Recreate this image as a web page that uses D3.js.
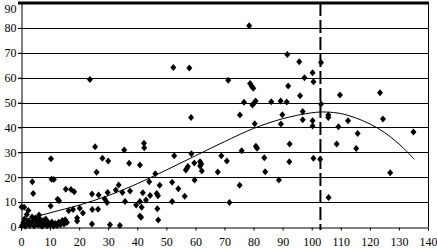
<!DOCTYPE html>
<html>
<head>
<meta charset="utf-8">
<script src="https://cdn.jsdelivr.net/npm/d3@7"></script>
<style>
html,body{margin:0;padding:0;background:#fff;}
svg{display:block;}
text{font-family:"Liberation Serif","Times New Roman",serif;font-size:12px;fill:#000;}
</style>
</head>
<body>
<svg id="chart" width="437" height="251"></svg>
<script>
// ---- data ----
const xTicks = [0,10,20,30,40,50,60,70,80,90,100,110,120,130,140];
const yTicks = [0,10,20,30,40,50,60,70,80,90];
const pointX = [
 23.7,52.4,57.9,58.5,71.3,75.3,78.5,78.8,79.3,79.9,76.7,79.6,80.2,80.7,80.4,86.1,89.3,91.4,89.4,89.9,
 91.6,91.9,95.7,96,97.5,100.3,100.6,103.2,103.2,96.9,96.9,100.3,100.3,105.7,105.7,109.7,123.5,109.2,112.5,124.5,
 115.8,135,108.6,115.3,100.6,102.9,127,105.8,92.4,92.3,88.7,84,83.7,80.8,81.2,75.9,75.2,71.7,68.9,70.8,
 67.7,62.2,61.6,62,61.6,59.6,58.6,57,56.7,57.4,59.7,56.3,54.1,52,52.7,52,47.7,46.2,44.1,44.4,
 46.7,47.1,46.9,47.2,43,41.9,40.9,39.6,41.5,40.9,41.3,40.9,42.3,42.4,37.2,37.5,35.5,35.8,34.9,33.6,
 32.6,34,30.6,29.8,28.8,29.6,30,28,26,25.5,26.7,24.4,24.5,26.5,24.4,21.3,19.3,19.3,20.2,16.4,
 17.9,17.2,18.3,15.4,12.6,13.1,10.3,10.5,11.3,10.2,3.9,4.2,0.2,1.1,2.5,
 0.3,0.8,1.2,1.5,2.1,2.6,3.0,3.4,3.8,4.2,4.5,4.9,5.3,5.6,6.0,6.4,6.8,7.2,7.6,8.0,
 8.5,9.0,9.4,10.0,10.6,11.2,11.8,12.4,13.0,13.6,14.2,14.8,15.2,15.8,6.2,2.0
];
const pointY = [
 59.3,64.1,63.9,44,59,45,80.9,57.7,56.7,55.7,50.1,49,49.8,50.6,41.5,50.3,50.6,50.2,41.4,45.1,
 69.3,56.7,66.4,52.7,60,62,58.4,66.1,49.4,46.4,43.1,42.7,40.6,45,44,53,53.9,40.3,42.7,43.4,
 37.6,38.2,33.3,31.5,27.6,27.2,21.8,11.9,33.3,26.2,18.9,22.2,27.8,32.4,31.6,30.6,16.8,9.8,28.6,26.5,
 22.1,22.5,26.2,25.3,24.5,25.7,29.4,23.5,22.9,24.3,18.9,12.4,15.4,18,28.6,10.2,16.8,21.4,18.2,12.7,
 13.5,12.6,7.3,2.8,10.8,13.8,10.2,8.8,7.9,4.4,3.9,24.9,33.6,31.8,25.6,14.5,30.9,10.2,13.9,16.9,
 14.9,0.6,0.9,13.9,11.2,9.8,26.5,27.6,22,32.2,12.9,13.3,7,7.1,1.2,5.6,3.6,2.4,7.5,6.5,
 7,15.1,14.2,15.2,11.1,10.5,27.4,19.2,19.1,8.4,18.2,13.5,8,7.9,6.6,
 0.5,1.8,3.2,0.3,1.2,2.4,0.6,1.6,4.0,2.6,0.4,3.6,1.2,2.2,0.8,3.4,1.6,0.3,2.5,1.0,
 3.2,0.5,1.8,0.8,2.0,0.4,1.4,0.6,1.9,0.9,2.6,1.2,2.9,1.8,4.8,5.0
];
// trend curve
const trendX = [2,10,20,30,40,50,60,70,80,90,100,105,110,115,120,125,130,135.3];
const trendY = [3.2,5.7,8.8,12.6,17.4,22.9,28.6,34.3,39.6,43.5,45.9,46.2,45.6,43.9,41.4,38.0,33.4,27.2];
const markerX = 103;

// ---- drawing ----
const svg = d3.select("#chart");
const x = d3.scaleLinear().domain([0,140]).range([21,428]);
const y = d3.scaleLinear().domain([0,90]).range([227,3]);

// gridlines
svg.append("g").selectAll("line").data(yTicks.filter(v=>v>0 && v<90)).join("line")
  .attr("x1",x(0)-3).attr("x2",x(140)).attr("y1",d=>Math.round(y(d))+0.5).attr("y2",d=>Math.round(y(d))+0.5)
  .attr("stroke","#000").attr("stroke-width",1);
// top border (thick)
svg.append("line").attr("x1",x(0)-3).attr("x2",x(140)+1).attr("y1",y(90)).attr("y2",y(90))
  .attr("stroke","#000").attr("stroke-width",3);
// right border
svg.append("line").attr("x1",Math.round(x(140))+0.5).attr("x2",Math.round(x(140))+0.5).attr("y1",y(90)).attr("y2",y(0))
  .attr("stroke","#000").attr("stroke-width",1);

// axes
const xAxis = d3.axisBottom(x).tickValues(xTicks).tickSize(3).tickFormat(d3.format("d"));
const gx = svg.append("g").attr("transform",`translate(0,${Math.round(y(0))+0.5})`).call(xAxis);
gx.select(".domain").attr("stroke","#000");
gx.selectAll(".tick line").attr("stroke","#000");
gx.selectAll("text").attr("y",15).attr("dy","0.32em").attr("font-family",null).attr("font-size",null)
  .style("font-family","'Liberation Serif',serif").style("font-size","12px");

const yAxis = d3.axisLeft(y).tickValues(yTicks).tickSize(3).tickFormat(d3.format("d"));
const gy = svg.append("g").attr("transform",`translate(${Math.round(x(0))+0.5},0)`).call(yAxis);
gy.select(".domain").attr("stroke","#000");
gy.selectAll(".tick line").attr("stroke","#000");
gy.selectAll("text").attr("x",-5).attr("font-family",null).attr("font-size",null)
  .style("font-family","'Liberation Serif',serif").style("font-size","12px")
  .attr("dy",d=>d===90?"0.75em":"0.32em");

// dashed vertical line
svg.append("line").attr("x1",x(markerX)).attr("x2",x(markerX)).attr("y1",y(90)).attr("y2",y(0)+3)
  .attr("stroke","#000").attr("stroke-width",2).attr("stroke-dasharray","13,4");

// points
const diamond = "M0,-3.5L3,0L0,3.5L-3,0Z";
svg.append("g").selectAll("path").data(pointX.map((v,i)=>[v,pointY[i]])).join("path")
  .attr("d",diamond).attr("transform",d=>`translate(${x(d[0])},${y(d[1])})`).attr("fill","#000");

// trend curve
const line = d3.line().x(d=>x(d[0])).y(d=>y(d[1])).curve(d3.curveCatmullRom);
svg.append("path").datum(trendX.map((v,i)=>[v,trendY[i]])).attr("d",line)
  .attr("fill","none").attr("stroke","#000").attr("stroke-width",1);
</script>
</body>
</html>
